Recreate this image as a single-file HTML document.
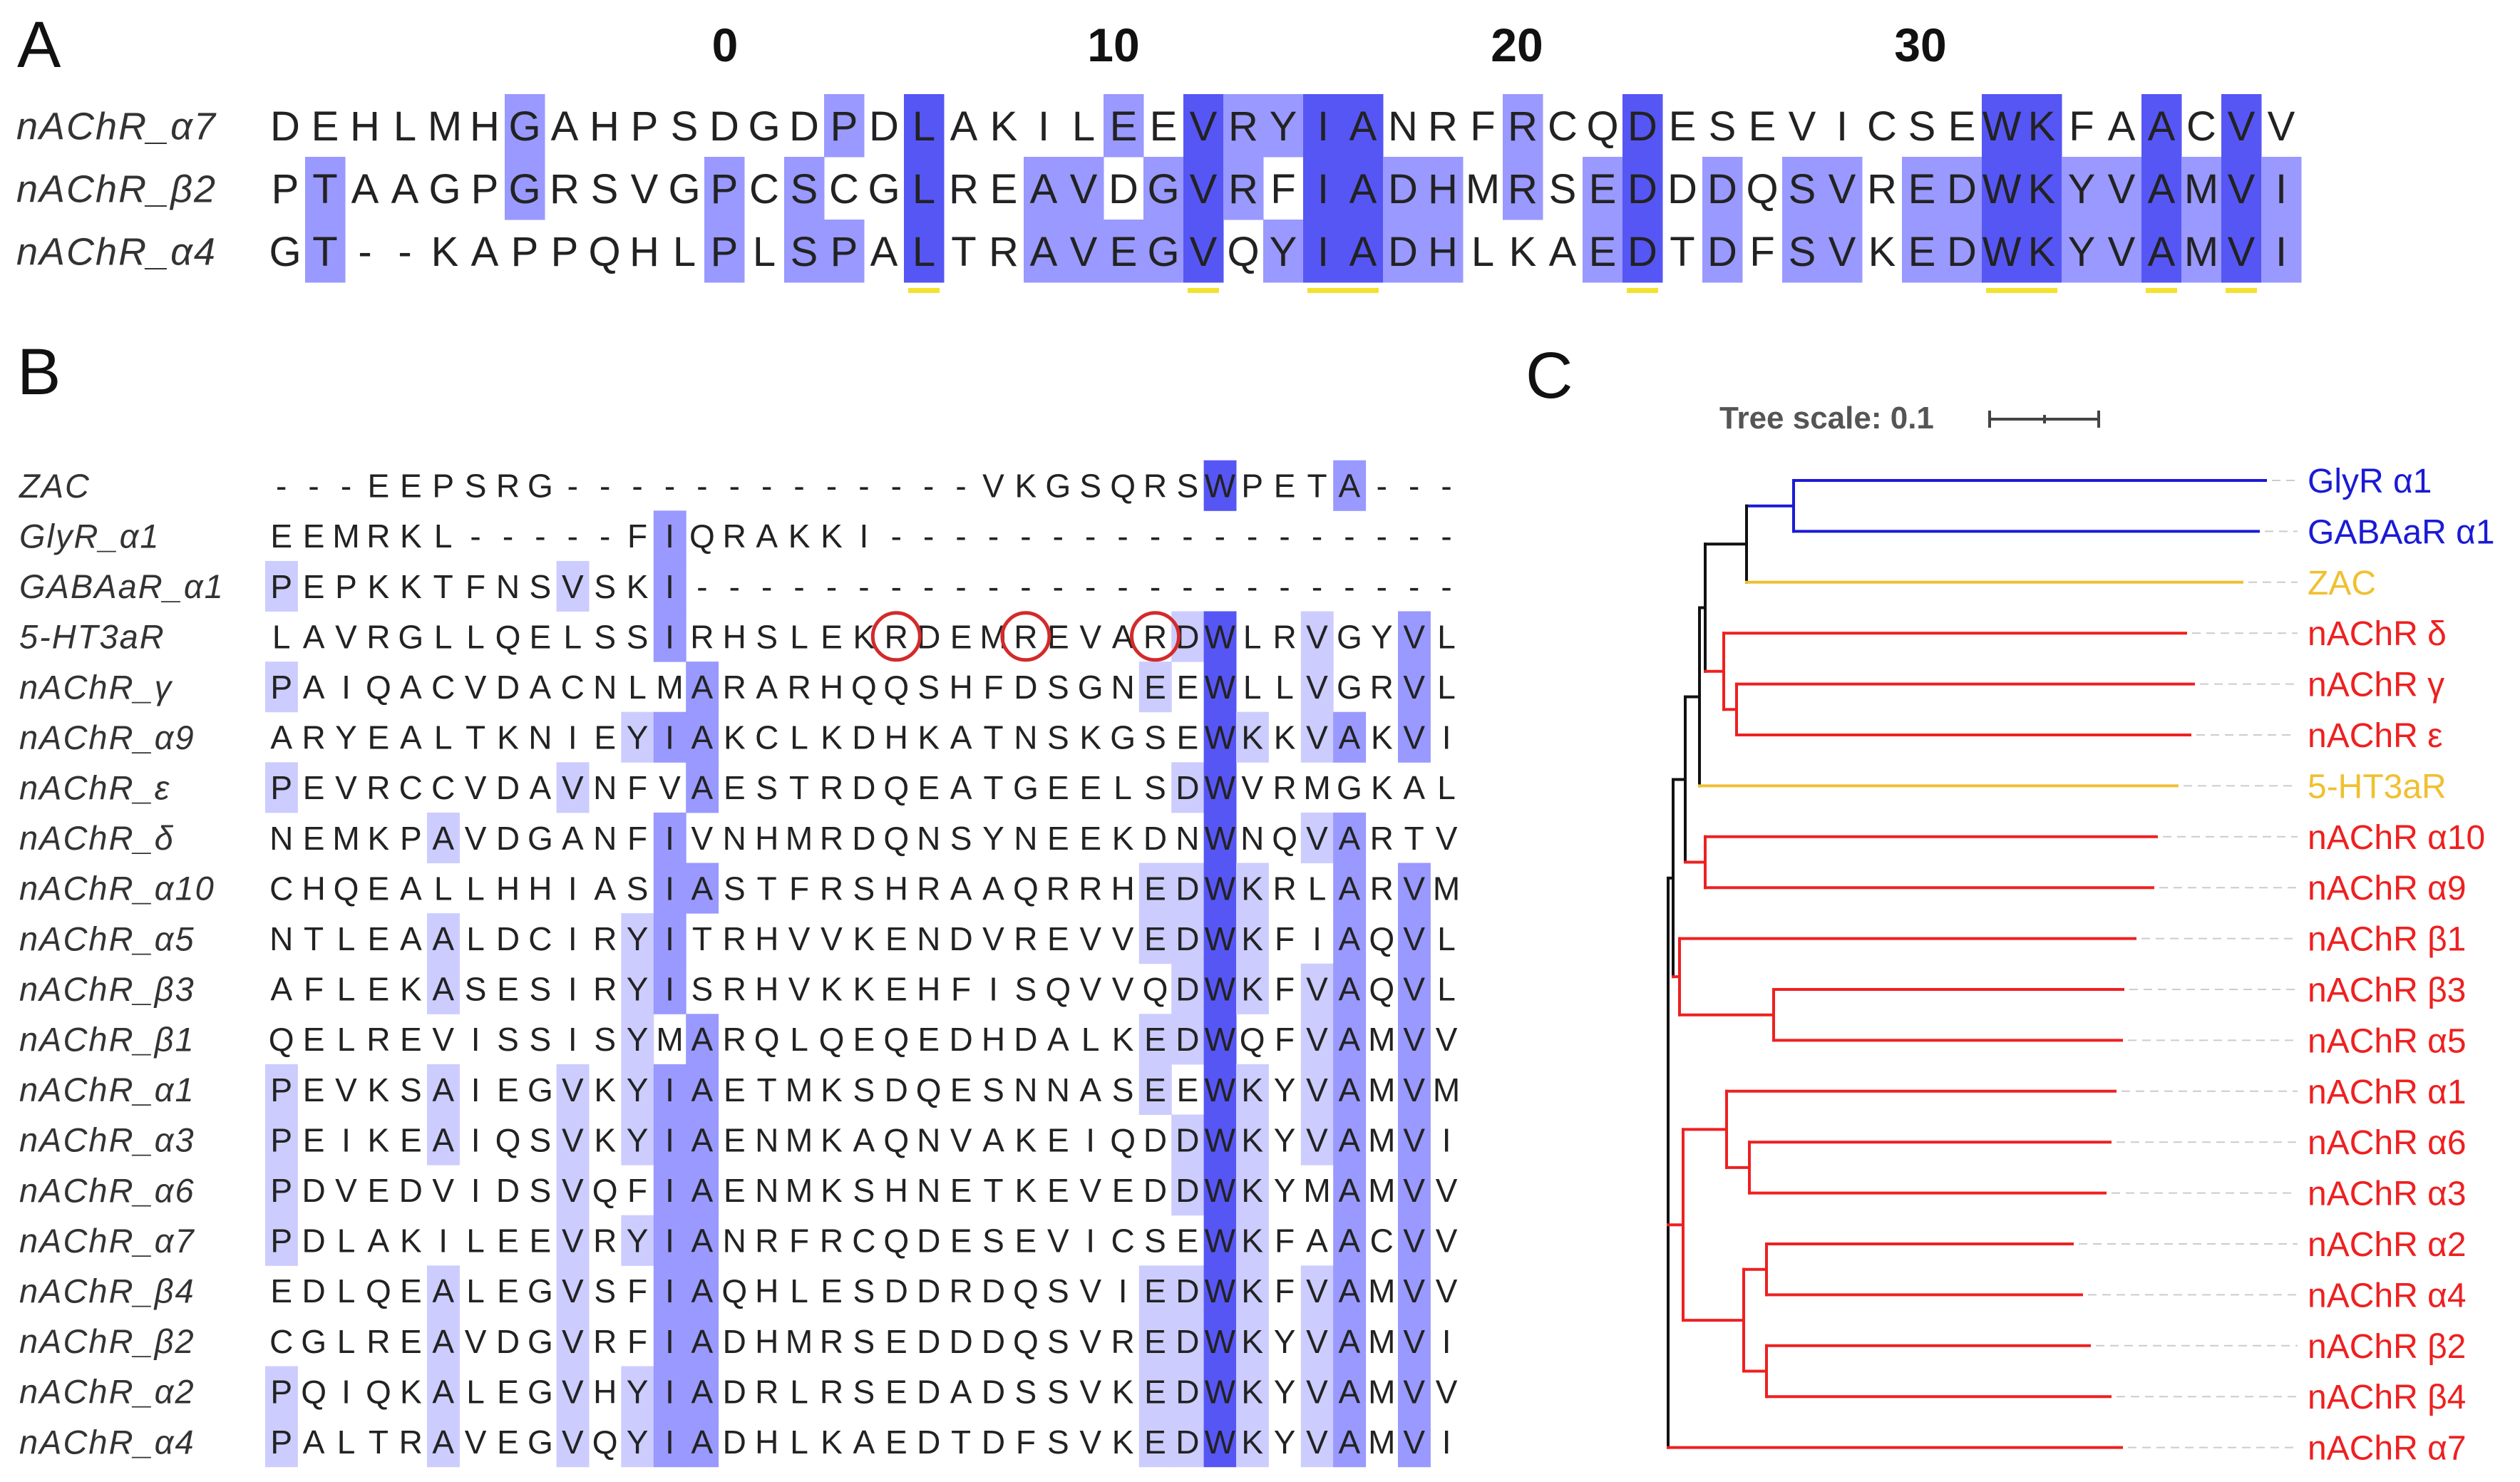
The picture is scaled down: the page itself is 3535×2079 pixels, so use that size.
<!DOCTYPE html>
<html><head><meta charset="utf-8"><style>
html,body{margin:0;padding:0;background:#fff;}
svg{display:block;}
text{font-family:"Liberation Sans",sans-serif;}
</style></head><body>
<svg id="s" xmlns="http://www.w3.org/2000/svg" width="3535" height="2079" viewBox="0 0 3535 2079">
<rect width="3535" height="2079" fill="#fff"/>
<g id="bg"></g>
<g id="fg"></g>
<text x="24" y="94" font-size="92" fill="#111">A</text>
<text x="24" y="553" font-size="92" fill="#111">B</text>
<text x="2140" y="558" font-size="92" fill="#111">C</text>
<g font-size="66" font-weight="bold" fill="#111" text-anchor="middle">
<text x="1017" y="86">0</text><text x="1562" y="86">10</text><text x="2128" y="86">20</text><text x="2694" y="86">30</text>
</g>
<text x="2412" y="601" font-size="44" font-weight="bold" fill="#555">Tree scale: 0.1</text>
<g stroke="#444" stroke-width="4"><line x1="2791" y1="588" x2="2944" y2="588"/><line x1="2791" y1="576" x2="2791" y2="600"/><line x1="2944" y1="576" x2="2944" y2="600"/><line x1="2868" y1="582" x2="2868" y2="594"/></g>
<g id="tree" stroke-width="4" fill="none" stroke-linecap="square"></g>
</svg>
<script>
var NS="http://www.w3.org/2000/svg";
var bg=document.getElementById('bg'),fg=document.getElementById('fg'),tr=document.getElementById('tree');
function el(p,t,a,txt){var e=document.createElementNS(NS,t);for(var k in a)e.setAttribute(k,a[k]);if(txt!==undefined)e.textContent=txt;p.appendChild(e);return e;}
function aln(names,seqs,x0,cw,yc0,rh,fs,nfs,nx,yellow){
  var n=seqs.length,L=seqs[0].length,prevDark=false;
  for(var c=0;c<L;c++){
    var cnt={};for(var i=0;i<n;i++){var r=seqs[i][c];if(r!='-')cnt[r]=(cnt[r]||0)+1;}
    var mx=0;for(var k in cnt)if(cnt[k]>mx)mx=cnt[k];
    var p=mx/n*100,col=null;
    if(p>80)col='#5656f5';else if(p>60)col='#9999ff';else if(p>40)col='#ccccff';
    for(var i=0;i<n;i++){var r=seqs[i][c];
      if(col&&r!='-'&&cnt[r]==mx)el(bg,'rect',{x:x0+cw*c,y:yc0+rh*i-rh/2,width:cw+0.5,height:rh+0.5,fill:col});
      el(fg,'text',{x:x0+cw*(c+0.5),y:yc0+rh*i+fs*0.36,'font-size':fs,'text-anchor':'middle',fill:'#222'},r);
    }
    if(yellow&&p>80){
      var xs=x0+cw*c+(prevDark?-1:6);
      var nextDark=false;
      if(c+1<L){var c2={};for(var i=0;i<n;i++){var r=seqs[i][c+1];if(r!='-')c2[r]=(c2[r]||0)+1;}var m2=0;for(var k in c2)if(c2[k]>m2)m2=c2[k];nextDark=m2/n*100>80;}
      var xe=x0+cw*(c+1)+(nextDark?1:-6);
      el(bg,'rect',{x:xs,y:yc0+rh*(n-1)+rh/2+8,width:xe-xs,height:7,fill:'#f3e22e'});
    }
    prevDark=p>80;
  }
  for(var i=0;i<n;i++)el(fg,'text',{x:nx,y:yc0+rh*i+nfs*0.36,'font-size':nfs,'font-style':'italic',fill:'#333','letter-spacing':2},names[i]);
}
aln(['nAChR_α7','nAChR_β2','nAChR_α4'],
['DEHLMHGAHPSDGDPDLAKILEEVRYIANRFRCQDESEVICSEWKFAACVV',
 'PTAAGPGRSVGPCSCGLREAVDGVRFIADHMRSEDDDQSVREDWKYVAMVI',
 'GT--KAPPQHLPLSPALTRAVEGVQYIADHLKAEDTDFSVKEDWKYVAMVI'],372,56,176,88,58,54,23,true);
var bn=['ZAC','GlyR_α1','GABAaR_α1','5-HT3aR','nAChR_γ','nAChR_α9','nAChR_ε','nAChR_δ','nAChR_α10','nAChR_α5','nAChR_β3','nAChR_β1','nAChR_α1','nAChR_α3','nAChR_α6','nAChR_α7','nAChR_β4','nAChR_β2','nAChR_α2','nAChR_α4'];
var bs=['---EEPSRG-------------VKGSQRSWPETA---',
'EEMRKL-----FIQRAKKI------------------',
'PEPKKTFNSVSKI------------------------',
'LAVRGLLQELSSIRHSLEKRDEMREVARDWLRVGYVL',
'PAIQACVDACNLMARARHQQSHFDSGNEEWLLVGRVL',
'ARYEALTKNIEYIAKCLKDHKATNSKGSEWKKVAKVI',
'PEVRCCVDAVNFVAESTRDQEATGEELSDWVRMGKAL',
'NEMKPAVDGANFIVNHMRDQNSYNEEKDNWNQVARTV',
'CHQEALLHHIASIASTFRSHRAAQRRHEDWKRLARVM',
'NTLEAALDCIRYITRHVVKENDVREVVEDWKFIAQVL',
'AFLEKASESIRYISRHVKKEHFISQVVQDWKFVAQVL',
'QELREVISSISYMARQLQEQEDHDALKEDWQFVAMVV',
'PEVKSAIEGVKYIAETMKSDQESNNASEEWKYVAMVM',
'PEIKEAIQSVKYIAENMKAQNVAKEIQDDWKYVAMVI',
'PDVEDVIDSVQFIAENMKSHNETKEVEDDWKYMAMVV',
'PDLAKILEEVRYIANRFRCQDESEVICSEWKFAACVV',
'EDLQEALEGVSFIAQHLESDDRDQSVIEDWKFVAMVV',
'CGLREAVDGVRFIADHMRSEDDDQSVREDWKYVAMVI',
'PQIQKALEGVHYIADRLRSEDADSSVKEDWKYVAMVV',
'PALTRAVEGVQYIADHLKAEDTDFSVKEDWKYVAMVI'];
aln(bn,bs,372,45.4,681,70.6,46,47,27,false);
[20,24,28].forEach(function(c){el(fg,'circle',{cx:372+45.4*(c-0.5),cy:681+70.6*3,r:33,fill:'none',stroke:'#d42a2a','stroke-width':5});});
function Y(i){return 674+71.4*i;}
function ln(x1,y1,x2,y2,c){el(tr,'line',{x1:x1,y1:y1,x2:x2,y2:y2,stroke:c});}
var B='#1a1ad6',K='#111',R='#ee2020',O='#f0c030';
var labs=[['GlyR α1',B,3178],['GABAaR α1',B,3168],['ZAC',O,3145],['nAChR δ',R,3066],['nAChR γ',R,3077],['nAChR ε',R,3072],['5-HT3aR',O,3054],['nAChR α10',R,3025],['nAChR α9',R,3020],['nAChR β1',R,2995],['nAChR β3',R,2978],['nAChR α5',R,2976],['nAChR α1',R,2967],['nAChR α6',R,2960],['nAChR α3',R,2953],['nAChR α2',R,2907],['nAChR α4',R,2920],['nAChR β2',R,2931],['nAChR β4',R,2960],['nAChR α7',R,2976]];
labs.forEach(function(l,i){
  el(tr,'line',{x1:l[2]+10,y1:Y(i),x2:3222,y2:Y(i),stroke:'#ccc','stroke-width':2,'stroke-dasharray':'10 10'});
  el(fg,'text',{x:3237,y:Y(i)+17,'font-size':48,fill:l[1]},l[0]);
});
var gg=(Y(0)+Y(1))/2, ggz=(gg+Y(2))/2, ge=(Y(4)+Y(5))/2, dge=(Y(3)+ge)/2, nA=(ggz+dge)/2, n310=(nA+Y(6))/2,
a109=(Y(7)+Y(8))/2, n288=(n310+a109)/2, b3a5=(Y(10)+Y(11))/2, n280=(Y(9)+b3a5)/2, n270=(n288+n280)/2,
a63=(Y(13)+Y(14))/2, n352=(Y(12)+a63)/2, a24=(Y(15)+Y(16))/2, b24=(Y(17)+Y(18))/2, n378=(a24+b24)/2, n285=(n352+n378)/2;
ln(2516,Y(0),2516,Y(1),B);ln(2516,Y(0),3178,Y(0),B);ln(2516,Y(1),3168,Y(1),B);ln(2450,gg,2516,gg,B);
ln(2450,gg,2450,Y(2),K);ln(2450,Y(2),3145,Y(2),O);
ln(2392,ggz,2450,ggz,K);ln(2392,ggz,2392,dge,K);
ln(2392,dge,2418,dge,R);ln(2418,Y(3),2418,ge,R);ln(2418,Y(3),3066,Y(3),R);ln(2418,ge,2436,ge,R);
ln(2436,Y(4),2436,Y(5),R);ln(2436,Y(4),3077,Y(4),R);ln(2436,Y(5),3072,Y(5),R);
ln(2384,nA,2392,nA,K);ln(2384,nA,2384,Y(6),K);ln(2384,Y(6),3054,Y(6),O);
ln(2364,n310,2384,n310,K);ln(2364,n310,2364,a109,K);ln(2364,a109,2392,a109,R);
ln(2392,Y(7),2392,Y(8),R);ln(2392,Y(7),3025,Y(7),R);ln(2392,Y(8),3020,Y(8),R);
ln(2347,n288,2364,n288,K);ln(2347,n288,2347,n280,K);ln(2347,n280,2356,n280,R);
ln(2356,Y(9),2356,b3a5,R);ln(2356,Y(9),2995,Y(9),R);ln(2356,b3a5,2488,b3a5,R);
ln(2488,Y(10),2488,Y(11),R);ln(2488,Y(10),2978,Y(10),R);ln(2488,Y(11),2976,Y(11),R);
ln(2340,n270,2347,n270,K);ln(2340,n270,2340,Y(19),K);ln(2340,Y(19),2976,Y(19),R);
ln(2340,n285,2361,n285,R);ln(2361,n352,2361,n378,R);
ln(2361,n352,2422,n352,R);ln(2422,Y(12),2422,a63,R);ln(2422,Y(12),2967,Y(12),R);ln(2422,a63,2454,a63,R);
ln(2454,Y(13),2454,Y(14),R);ln(2454,Y(13),2960,Y(13),R);ln(2454,Y(14),2953,Y(14),R);
ln(2361,n378,2446,n378,R);ln(2446,a24,2446,b24,R);ln(2446,a24,2478,a24,R);ln(2446,b24,2478,b24,R);
ln(2478,Y(15),2478,Y(16),R);ln(2478,Y(15),2907,Y(15),R);ln(2478,Y(16),2920,Y(16),R);
ln(2478,Y(17),2478,Y(18),R);ln(2478,Y(17),2931,Y(17),R);ln(2478,Y(18),2960,Y(18),R);
</script>
</body></html>
